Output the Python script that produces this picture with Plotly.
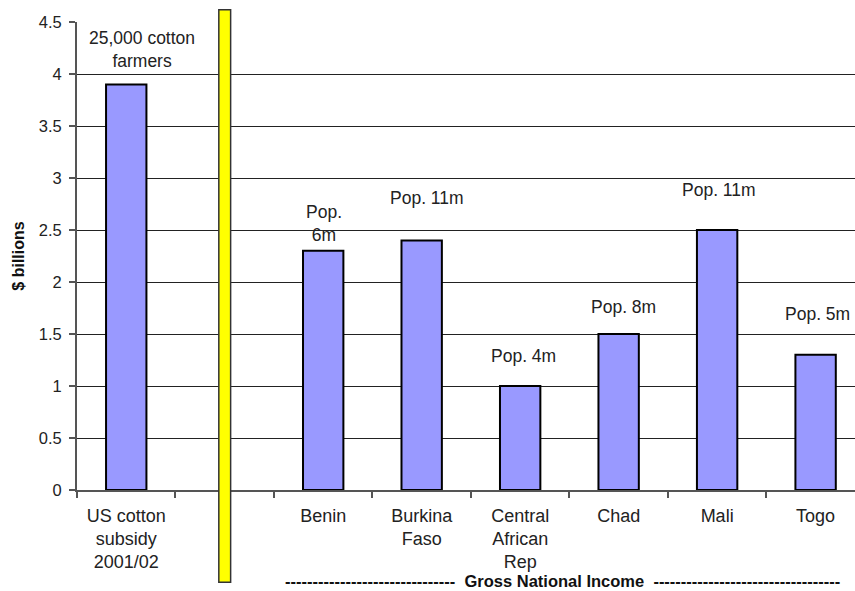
import plotly.graph_objects as go

# Categories along the x axis; the blank slot holds the separator bar
categories = ["US cotton<br>subsidy<br>2001/02", " ", "Benin", "Burkina<br>Faso",
              "Central<br>African<br>Rep", "Chad", "Mali", "Togo"]
values_bn = [3.9, None, 2.3, 2.4, 1.0, 1.5, 2.5, 1.3]
bar_notes = ["25,000 cotton<br>farmers", None, "Pop.<br>6m", "Pop. 11m",
             "Pop. 4m", "Pop. 8m", "Pop. 11m", "Pop. 5m"]
y_ticks = [0, 0.5, 1, 1.5, 2, 2.5, 3, 3.5, 4, 4.5]
y_tick_labels = ["0", "0.5", "1", "1.5", "2", "2.5", "3", "3.5", "4", "4.5"]

TEXT = "#222222"
FONT = "Liberation Sans, Arial, sans-serif"

fig = go.Figure()
fig.add_trace(go.Bar(
    x=categories, y=values_bn, width=0.41,
    marker=dict(color="#9999FF", line=dict(color="#000000", width=2)),
    hoverinfo="x+y",
))

# Note placement above each bar: (y centre in data units, x pixel shift)
note_place = [(4.24, 16), None, (2.56, 1), (2.81, 5), (1.29, 3), (1.76, 5), (2.88, 2), (1.69, 2)]
annotations = []
for cat, note, place in zip(categories, bar_notes, note_place):
    if note is None:
        continue
    annotations.append(dict(
        x=cat, y=place[0], xref="x", yref="y", text=note, showarrow=False,
        xshift=place[1], yanchor="middle",
        font=dict(family=FONT, size=17.5, color=TEXT),
    ))

annotations.append(dict(
    x=0.624, y=-0.195, xref="paper", yref="paper", showarrow=False, yanchor="middle",
    borderpad=0,
    text="-" * 31 + "  Gross National Income  " + "-" * 34,
    font=dict(family=FONT, size=16.5, color="#111111", weight="bold"),
))

# Yellow separator between the subsidy and the national-income bars
fig.add_shape(type="rect", xref="x", yref="paper",
              x0=0.94, x1=1.06, y0=-0.197, y1=1.026,
              fillcolor="#FFFF00", line=dict(color="#333333", width=1.5), layer="above")

fig.update_layout(
    width=855, height=591,
    margin=dict(l=77, r=0, t=22, b=101),
    paper_bgcolor="white", plot_bgcolor="white",
    showlegend=False,
    bargap=0.59,
    annotations=annotations,
    font=dict(family=FONT, color=TEXT),
)
fig.update_xaxes(
    type="category", categoryorder="array", categoryarray=categories,
    range=[-0.5, 7.4],
    showline=True, linecolor="#555555", linewidth=2,
    ticks="outside", tickson="boundaries", ticklen=6, tickcolor="#555555", tickwidth=2,
    ticklabelstandoff=8,
    showgrid=False, tickfont=dict(family=FONT, size=18, color=TEXT),
)
fig.update_yaxes(
    range=[0, 4.5], tickvals=y_ticks, ticktext=y_tick_labels,
    showline=True, linecolor="#555555", linewidth=2,
    ticks="outside", ticklen=6, tickcolor="#555555", tickwidth=2,
    showgrid=True, gridcolor="#222222", gridwidth=1, zeroline=False,
    tickfont=dict(family=FONT, size=16.5, color=TEXT), ticklabelstandoff=4,
    title=dict(text="$ billions", standoff=10,
               font=dict(family=FONT, size=16, color="#111111", weight="bold")),
)

fig.write_html("out.html")
